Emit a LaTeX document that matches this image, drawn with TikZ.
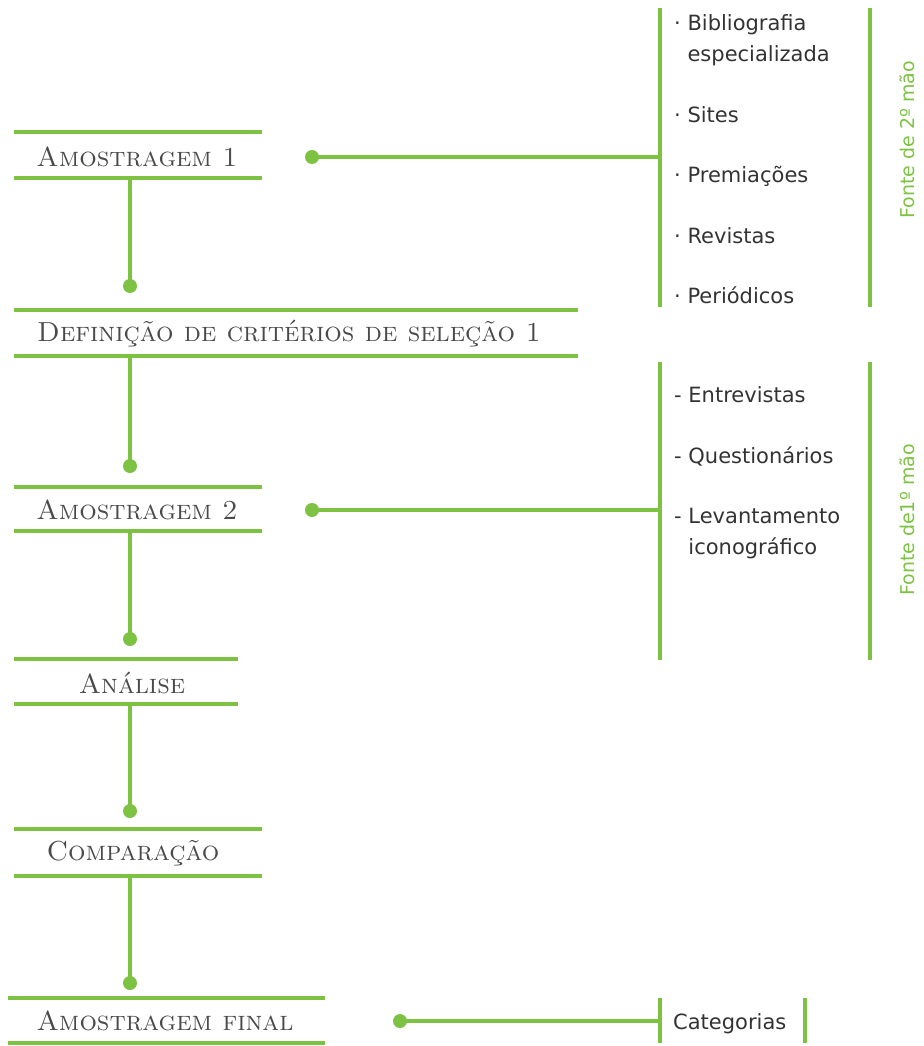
\documentclass[tikz,border=0pt]{standalone}
\usepackage{fontspec}
\newfontfamily\itemfont{DejaVu Sans}
\definecolor{folha}{HTML}{7DC243}
\definecolor{grafite}{HTML}{4A4A4A}
\tikzset{
	barra/.style={draw=folha, line width=4pt},
	ponto/.style={circle, fill=folha, inner sep=0pt, minimum size=14pt},
	titulo/.style={font=\fontsize{27.5}{27.5}\selectfont\scshape, text=grafite},
	item/.style={font=\itemfont\fontsize{21}{31}\selectfont, text=black!80, anchor=base west, align=left, inner sep=0pt},
	fonte/.style={font=\itemfont\fontsize{19}{19}\selectfont, text=folha, rotate=90}
}
\begin{document}
\begin{tikzpicture}[x=1pt, y=-1pt]
				\useasboundingbox (0,0) rectangle (923,1046);

				% etapas
				\node[titulo] (am1) at (137,157) {Amostragem 1};
				\draw[barra] (14,132) -- (262,132);
				\draw[barra] (14,178) -- (262,178);

				\node[titulo] (def) at (289,334) {Definição de critérios de seleção 1};
				\draw[barra] (14,310) -- (578,310);
				\draw[barra] (14,356) -- (578,356);

				\node[titulo] (am2) at (137,510) {Amostragem 2};
				\draw[barra] (14,487) -- (262,487);
				\draw[barra] (14,531) -- (262,531);

				\node[titulo] (ana) at (132,683) {Análise};
				\draw[barra] (14,659) -- (238,659);
				\draw[barra] (14,704) -- (238,704);

				\node[titulo] (comp) at (133,853) {Comparação};
				\draw[barra] (14,829) -- (262,829);
				\draw[barra] (14,876) -- (262,876);

				\node[titulo] (amf) at (165,1021) {Amostragem final};
				\draw[barra] (8,998) -- (325,998);
				\draw[barra] (8,1043) -- (325,1043);

				% ligacoes verticais
				\coordinate (am1b) at (130,178);
				\coordinate (defb) at (130,356);
				\coordinate (am2b) at (130,531);
				\coordinate (anab) at (130,704);
				\coordinate (compb) at (130,876);
				\node[ponto] (p1) at (130,286) {};
				\node[ponto] (p2) at (130,466) {};
				\node[ponto] (p3) at (130,639) {};
				\node[ponto] (p4) at (130,811) {};
				\node[ponto] (p5) at (130,983) {};
				\draw[barra] (am1b) -- (p1.center);
				\draw[barra] (defb) -- (p2.center);
				\draw[barra] (am2b) -- (p3.center);
				\draw[barra] (anab) -- (p4.center);
				\draw[barra] (compb) -- (p5.center);

				% fontes de 2a mao
				\node[ponto] (q1) at (312,157) {};
				\coordinate (g1) at (660,157);
				\draw[barra] (q1.center) -- (g1);
				\draw[barra] (660,8) -- (660,307);
				\draw[barra] (870,8) -- (870,307);
				\node[item] (bib) at (674,62) {· Bibliografia\\\phantom{· }especializada};
				\node[item] (sites) at (674,122) {· Sites};
				\node[item] (prem) at (674,182) {· Premiações};
				\node[item] (rev) at (674,243) {· Revistas};
				\node[item] (per) at (674,303) {· Periódicos};
				\node[fonte] (f2) at (907,140) {Fonte de 2º mão};

				% fontes de 1a mao
				\node[ponto] (q2) at (312,510) {};
				\coordinate (g2) at (660,510);
				\draw[barra] (q2.center) -- (g2);
				\draw[barra] (660,362) -- (660,660);
				\draw[barra] (870,362) -- (870,660);
				\node[item] (entr) at (674,402) {- Entrevistas};
				\node[item] (quest) at (674,463) {- Questionários};
				\node[item] (lev) at (674,554) {- Levantamento\\\phantom{- }iconográfico};
				\node[fonte] (f1) at (907,520) {Fonte de1º mão};

				% categorias
				\node[ponto] (q3) at (400,1021) {};
				\coordinate (g3) at (660,1021);
				\draw[barra] (q3.center) -- (g3);
				\draw[barra] (660,998) -- (660,1043);
				\draw[barra] (805,998) -- (805,1043);
				\node[item] (cat) at (673,1029) {Categorias};

			\end{tikzpicture}
\end{document}
